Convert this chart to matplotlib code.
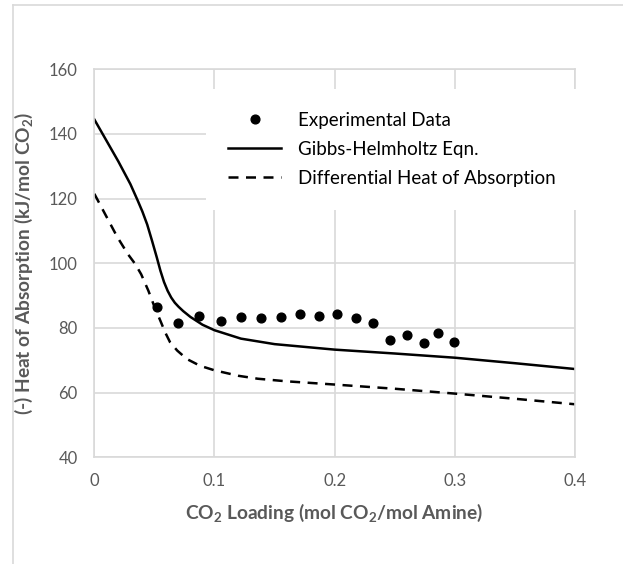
import numpy as np
import matplotlib
matplotlib.use('Agg')
import matplotlib.pyplot as plt
from matplotlib.lines import Line2D

plt.rcParams['font.family'] = ['Lato', 'DejaVu Sans']
plt.rcParams['mathtext.fontset'] = 'custom'
plt.rcParams['mathtext.rm'] = 'Lato'
plt.rcParams['mathtext.bf'] = 'Lato:bold'

# donnees experimentales
x_exp = [0.052, 0.070, 0.087, 0.105, 0.122, 0.139, 0.155, 0.171, 0.187, 0.202,
         0.218, 0.232, 0.246, 0.260, 0.274, 0.286, 0.299]
y_exp = [86.6, 81.5, 83.8, 82.0, 83.5, 83.0, 83.5, 84.2, 83.7, 84.2,
         83.2, 81.6, 76.2, 77.9, 75.3, 78.3, 75.7]

# equation de Gibbs-Helmholtz
x_gh = [0.0, 0.010, 0.020, 0.030, 0.036, 0.040, 0.044, 0.048, 0.052, 0.055, 0.058,
        0.061, 0.064, 0.067, 0.070, 0.074, 0.080, 0.090, 0.100, 0.122, 0.150, 0.200,
        0.250, 0.300, 0.350, 0.400]
y_gh = [144.5, 138.0, 131.5, 124.5, 119.5, 116.0, 112.0, 107.0, 101.8, 97.7, 94.2,
        91.5, 89.4, 87.8, 86.6, 85.2, 83.4, 81.0, 79.3, 76.7, 75.0, 73.3,
        72.1, 70.8, 69.1, 67.3]

# chaleur differentielle d'absorption
x_diff = [0.0, 0.010, 0.019, 0.028, 0.034, 0.039, 0.045, 0.050, 0.055, 0.059, 0.063,
          0.069, 0.077, 0.088, 0.100, 0.120, 0.136, 0.160, 0.200, 0.250, 0.300,
          0.350, 0.400]
y_diff = [121.5, 114.5, 108.2, 102.8, 99.8, 96.6, 91.5, 86.6, 82.2, 78.6, 75.6,
          73.0, 70.4, 68.3, 66.9, 65.2, 64.3, 63.5, 62.5, 61.2, 59.7,
          58.1, 56.4]

gris = '#d9d9d9'
texte = '#595959'

fig = plt.figure(figsize=(6.23, 5.64), dpi=100)
ax = fig.add_axes([0.1514, 0.1892, 0.9230 - 0.1514, 0.8771 - 0.1892])

ax.plot(x_exp, y_exp, 'o', color='black', markersize=6.3, label='Experimental Data', zorder=3)
ax.plot(x_gh, y_gh, '-', color='black', linewidth=1.8, label='Gibbs-Helmholtz Eqn.')
ax.plot(x_diff, y_diff, '--', color='black', linewidth=1.8, dashes=(4, 3),
        label='Differential Heat of Absorption')

ax.set_xlim(0, 0.4)
ax.set_ylim(40, 160)
ax.set_xticks([0, 0.1, 0.2, 0.3, 0.4])
ax.set_xticklabels(['0', '0.1', '0.2', '0.3', '0.4'])
ax.set_yticks([40, 60, 80, 100, 120, 140, 160])
ax.grid(True, color=gris, linewidth=1.2)
ax.set_axisbelow(True)
for s in ax.spines.values():
    s.set_color(gris)
    s.set_linewidth(1.2)
ax.tick_params(length=0, labelsize=12, colors=texte)
ax.tick_params(axis='x', pad=11)
ax.tick_params(axis='y', pad=12)

ax.set_xlabel(r'CO$_\mathbf{2}$ Loading (mol CO$_\mathbf{2}$/mol Amine)',
              fontsize=13.8, fontweight='bold', color=texte, labelpad=9)
ax.set_ylabel(r'(-) Heat of Absorption (kJ/mol CO$_\mathbf{2}$)',
              fontsize=13.8, fontweight='bold', color=texte, labelpad=10)

leg = ax.legend(loc='upper left', bbox_to_anchor=(0.2125, 0.973), fontsize=13.5,
                frameon=True, facecolor='white', edgecolor='none', framealpha=1,
                fancybox=False, borderpad=1.2, handlelength=2.8, handletextpad=0.9,
                labelspacing=0.65)
for t in leg.get_texts():
    t.set_color('black')

# cadre autour du graphique
fig.add_artist(Line2D([13.5 / 623, 1], [1 - 5 / 564, 1 - 5 / 564], color=gris, linewidth=1.2))
fig.add_artist(Line2D([13.5 / 623, 13.5 / 623], [0, 1 - 5 / 564], color=gris, linewidth=1.2))

fig.savefig('out.png', dpi=100)
